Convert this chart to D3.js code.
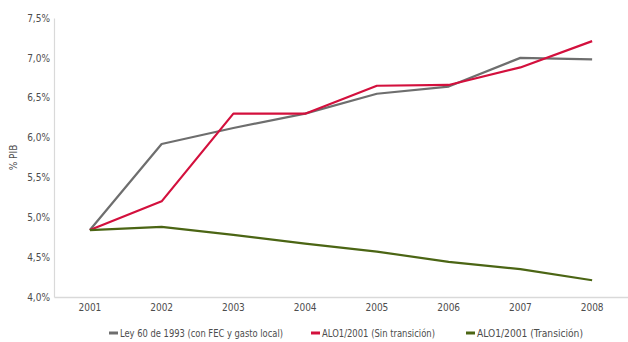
<!DOCTYPE html>
<html>
<head>
<meta charset="utf-8">
<script src="https://cdn.jsdelivr.net/npm/d3@7"></script>
<style>
  html, body { margin: 0; padding: 0; background: #fff; }
  svg { display: block; }
  text { font-family: "DejaVu Sans Condensed", "Liberation Sans Narrow", "Open Sans", sans-serif; fill: #4d4d4d; }
</style>
</head>
<body>
<svg id="chart" width="628" height="342"></svg>
<script>
// Years on the horizontal axis
const years = ["2001", "2002", "2003", "2004", "2005", "2006", "2007", "2008"];

// Transfers as % of GDP under each scenario
const ley60 = [4.84, 5.92, 6.12, 6.30, 6.55, 6.64, 7.00, 6.98];
const alSinTransicion = [4.84, 5.20, 6.30, 6.30, 6.65, 6.66, 6.88, 7.21];
const alTransicion = [4.84, 4.88, 4.78, 4.67, 4.57, 4.44, 4.35, 4.21];

const seriesNames = [
  "Ley 60 de 1993 (con FEC y gasto local)",
  "ALO1/2001 (Sin transición)",
  "ALO1/2001 (Transición)"
];
const seriesColors = ["#6e6e6e", "#d3103d", "#4b6514"];

const yTicks = [4.0, 4.5, 5.0, 5.5, 6.0, 6.5, 7.0, 7.5];
const yTitle = "% PIB";

const series = [ley60, alSinTransicion, alTransicion].map((values, i) => ({
  name: seriesNames[i], color: seriesColors[i], values
}));

const svg = d3.select("#chart");
const margin = { top: 18, right: 0, bottom: 45, left: 54 };
const width = 628, height = 342;

const x = d3.scaleBand()
  .domain(years)
  .range([margin.left, width - margin.right])
  .paddingInner(0).paddingOuter(0);

const y = d3.scaleLinear()
  .domain([4.0, 7.5])
  .range([height - margin.bottom, margin.top]);

const fmt = v => d3.format(".1f")(v).replace(".", ",") + "%";

// Y axis
const yAxis = svg.append("g")
  .attr("transform", `translate(${margin.left},0)`)
  .call(d3.axisLeft(y).tickValues(yTicks).tickFormat(fmt).tickSize(0).tickPadding(4));
yAxis.select(".domain").attr("stroke", "#d9d9d9").attr("stroke-width", 1.2);
yAxis.selectAll("text").style("font-size", "10px").attr("fill", "#4d4d4d");

// X axis
const xAxis = svg.append("g")
  .attr("transform", `translate(0,${height - margin.bottom})`)
  .call(d3.axisBottom(x).tickSize(0).tickPadding(7));
xAxis.select(".domain").attr("stroke", "#d9d9d9").attr("stroke-width", 1.5);
xAxis.selectAll("text").style("font-size", "10px").attr("fill", "#4d4d4d");

// Y axis title
svg.append("text")
  .attr("transform", `translate(17,${(margin.top + height - margin.bottom) / 2}) rotate(-90)`)
  .attr("text-anchor", "middle")
  .style("font-size", "10px")
  .text(yTitle);

// Lines
const line = d3.line()
  .x((d, i) => x(years[i]) + x.bandwidth() / 2)
  .y(d => y(d));

svg.append("g").selectAll("path")
  .data(series)
  .join("path")
  .attr("fill", "none")
  .attr("stroke", d => d.color)
  .attr("stroke-width", 2.2)
  .attr("stroke-linejoin", "round")
  .attr("d", d => line(d.values));

// Legend
const legendX = [109, 311, 466];
const legendW = [163, 113, 106];
const legend = svg.append("g").attr("transform", `translate(0,333)`);
const items = legend.selectAll("g")
  .data(series)
  .join("g")
  .attr("transform", (d, i) => `translate(${legendX[i]},0)`);
items.append("line")
  .attr("x1", 0).attr("x2", 9).attr("y1", 0).attr("y2", 0)
  .attr("stroke", d => d.color).attr("stroke-width", 3);
items.append("text")
  .attr("x", 11).attr("dy", "0.35em")
  .style("font-size", "10px")
  .attr("textLength", (d, i) => legendW[i])
  .attr("lengthAdjust", "spacingAndGlyphs")
  .text(d => d.name);
</script>
</body>
</html>
